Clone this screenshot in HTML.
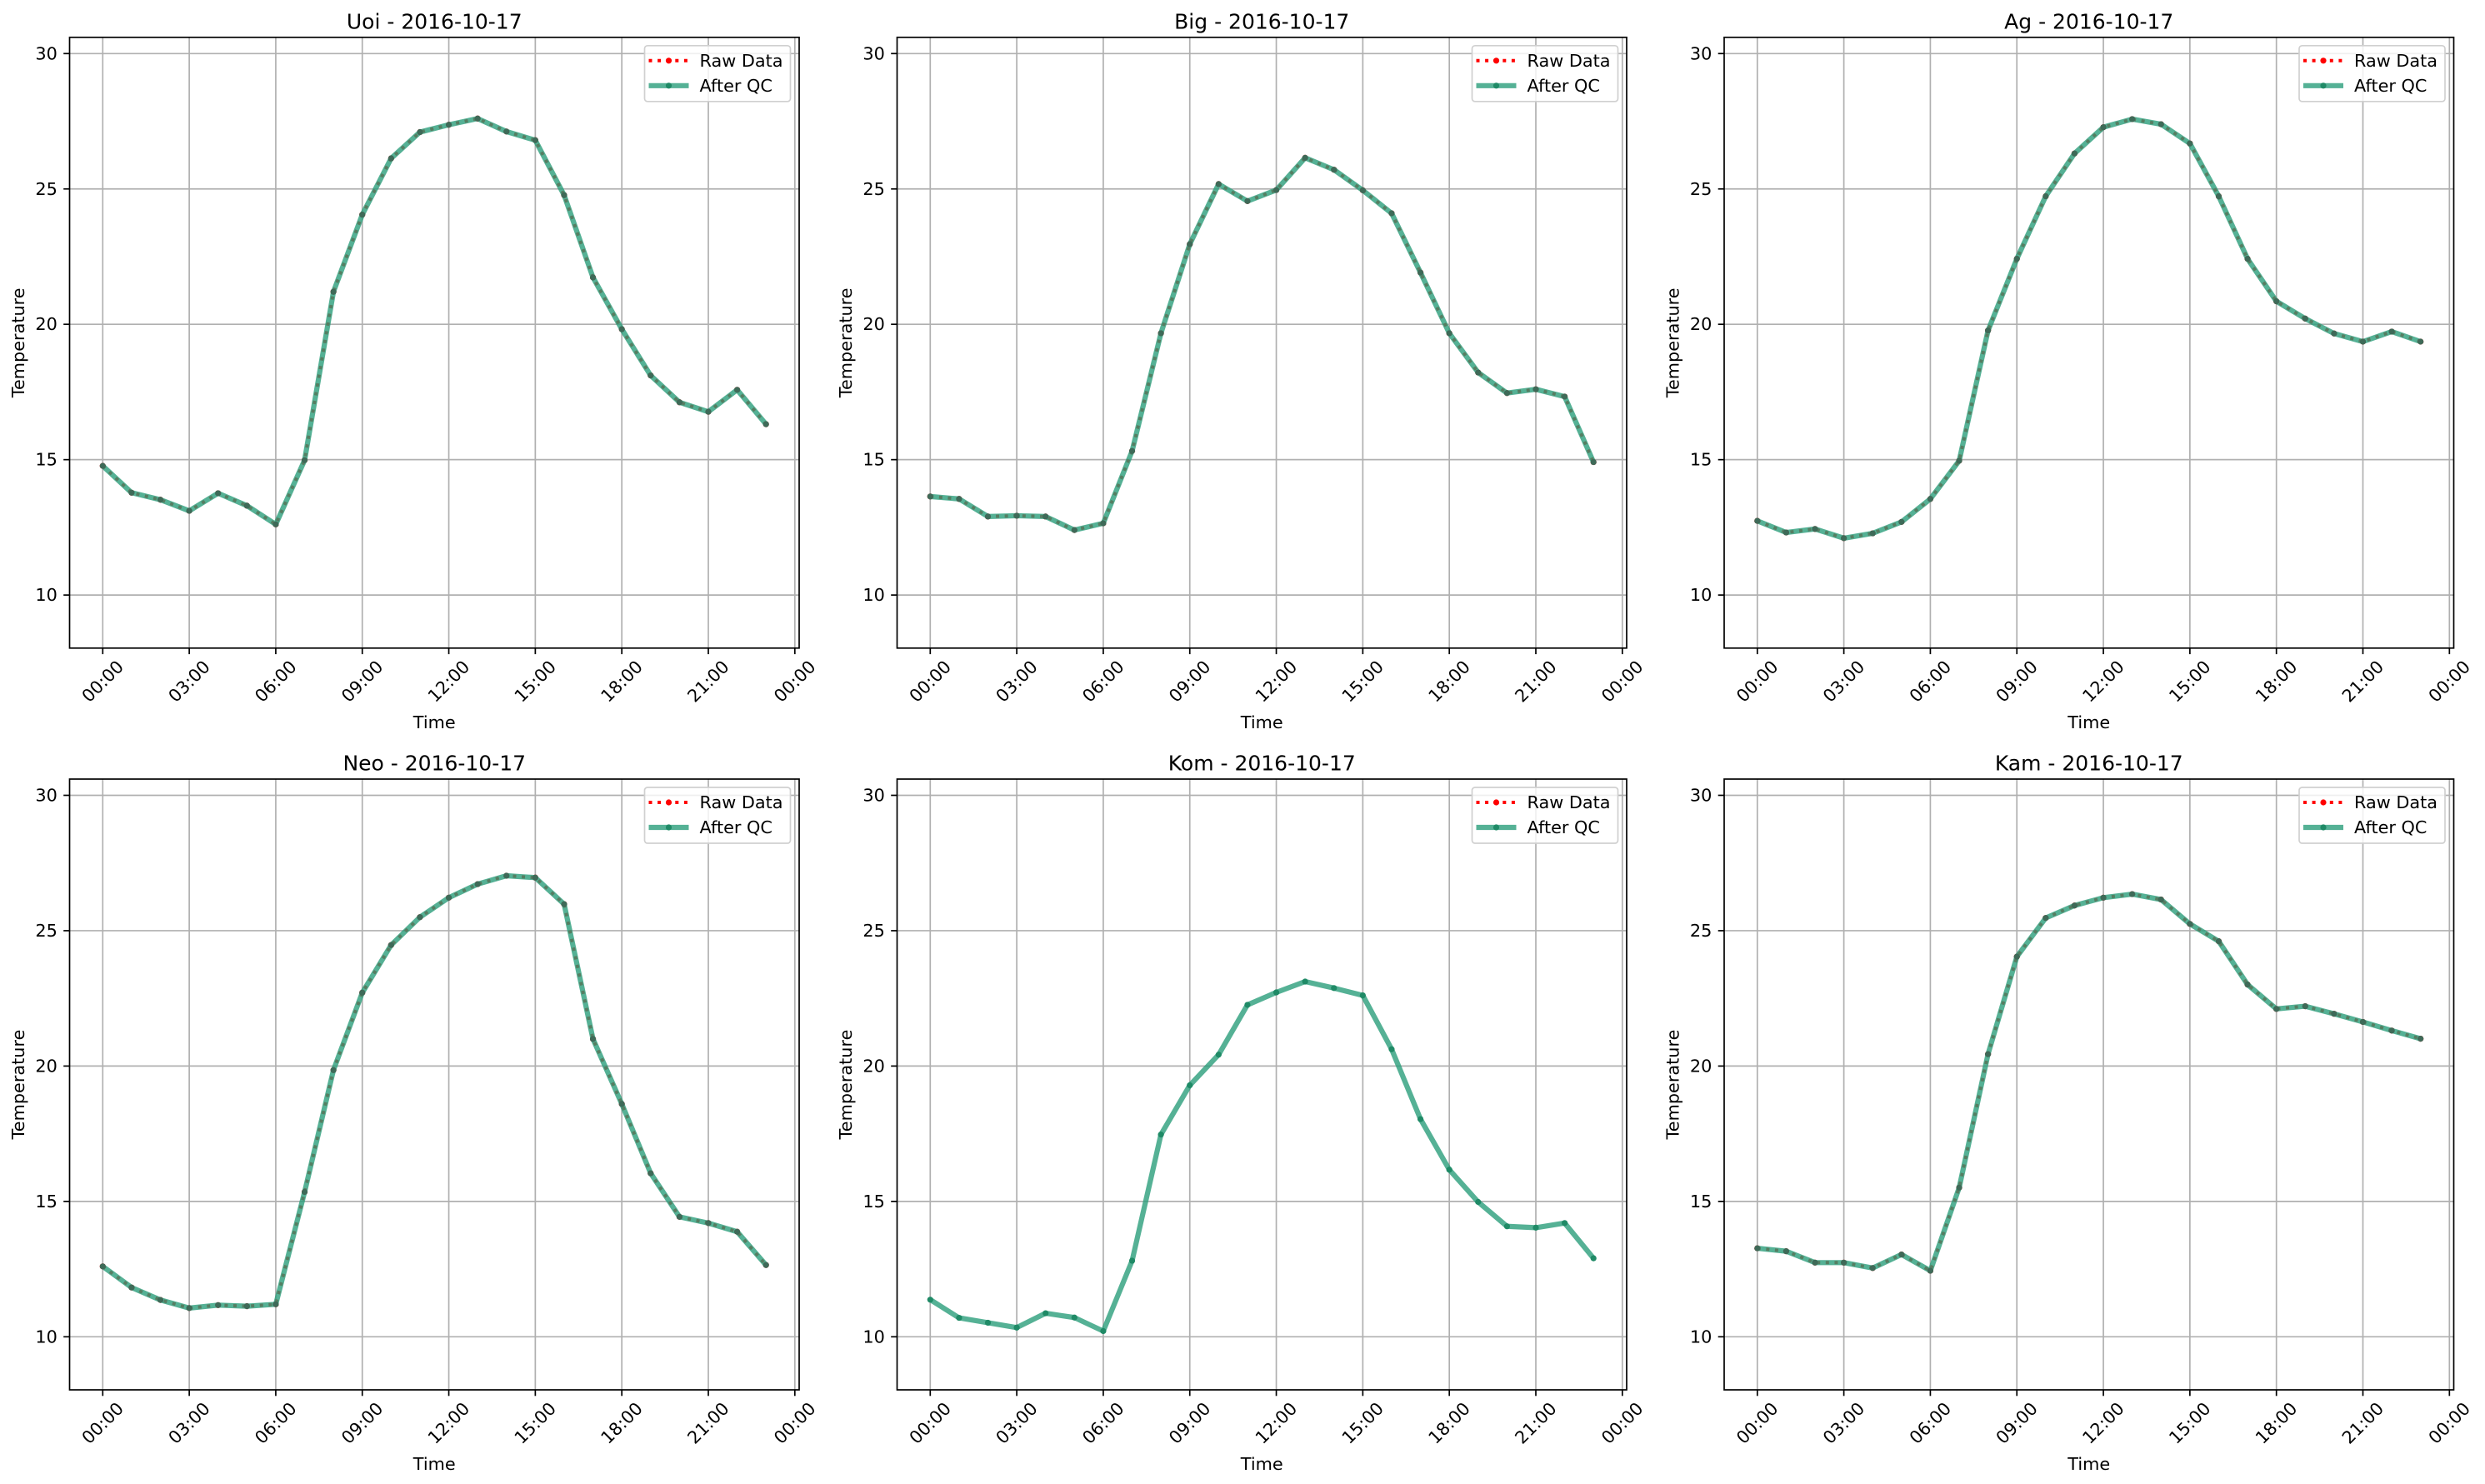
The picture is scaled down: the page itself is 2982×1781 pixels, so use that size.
<!DOCTYPE html>
<html><head><meta charset="utf-8">
<style>
html,body{margin:0;padding:0;background:#fff;}
svg{display:block;font-family:"DejaVu Sans","Liberation Sans",sans-serif;}
</style></head>
<body>
<svg id="fig" width="2982" height="1781" viewBox="0 0 2982 1781" xmlns="http://www.w3.org/2000/svg"></svg>
<script>
// ---- data ----
const stationNames = ["Uoi","Big","Ag","Neo","Kom","Kam"];
const dateLabel = "2016-10-17";
const hours = [0,1,2,3,4,5,6,7,8,9,10,11,12,13,14,15,16,17,18,19,20,21,22,23];
const qcUoi = [14.77,13.78,13.52,13.11,13.76,13.30,12.61,14.98,21.2,24.05,26.13,27.10,27.37,27.60,27.12,26.80,24.77,21.73,19.82,18.11,17.12,16.77,17.58,16.31];
const qcBig = [13.64,13.55,12.90,12.93,12.90,12.40,12.65,15.32,19.67,22.96,25.18,24.55,24.96,26.15,25.71,24.95,24.10,21.91,19.67,18.22,17.46,17.60,17.33,14.91];
const qcAg  = [12.74,12.31,12.44,12.10,12.28,12.70,13.55,14.96,19.77,22.42,24.73,26.31,27.28,27.58,27.39,26.68,24.73,22.42,20.85,20.21,19.66,19.36,19.73,19.36];
const qcNeo = [12.60,11.82,11.36,11.06,11.17,11.13,11.20,15.35,19.85,22.71,24.47,25.50,26.22,26.72,27.03,26.96,25.98,21.00,18.60,16.04,14.43,14.20,13.88,12.65];
const qcKom = [11.37,10.70,10.52,10.34,10.87,10.71,10.21,12.81,17.47,19.29,20.42,22.26,22.72,23.12,22.88,22.61,20.62,18.04,16.17,14.98,14.08,14.03,14.20,12.90];
const qcKam = [13.27,13.16,12.74,12.74,12.54,13.04,12.44,15.51,20.44,24.04,25.47,25.93,26.22,26.35,26.15,25.25,24.61,23.01,22.11,22.21,21.93,21.63,21.31,21.01];
const rawUoi = qcUoi.slice();
const rawBig = qcBig.slice();
const rawAg  = qcAg.slice();
const rawNeo = qcNeo.slice();
const rawKom = null; // raw data not plotted for Kom
const rawKam = qcKam.slice();
const yTicks = [10,15,20,25,30];
const xTickHours = [0,3,6,9,12,15,18,21,24];
const xTickLabels = ["00:00","03:00","06:00","09:00","12:00","15:00","18:00","21:00","00:00"];
const yMin = 8.04, yMax = 30.6, xMin = -1.15, xMax = 24.15;

// ---- layout ----
const NS = "http://www.w3.org/2000/svg";
const svg = document.getElementById("fig");
const colLefts = [83.5, 1076.5, 2069];
const rowTops = [44.8, 935];
const AW = 875.5, AH = 733;
const FS = 20.8;

function mk(tag, attrs, parent){
  const e = document.createElementNS(NS, tag);
  for (const k in attrs) e.setAttribute(k, attrs[k]);
  parent.appendChild(e);
  return e;
}

function panel(idx, name, raw, qc){
  const L = colLefts[idx%3], T = rowTops[Math.floor(idx/3)];
  const sx = h => L + (h - xMin) / (xMax - xMin) * AW;
  const sy = v => T + (yMax - v) / (yMax - yMin) * AH;
  const g = mk("g", {}, svg);
  
  

  // grid
  xTickHours.forEach(h => {
    const l = mk("line", {x1:sx(h),x2:sx(h),y1:T,y2:T+AH,stroke:"#b0b0b0","stroke-width":1.7}, g);
    
    
  });
  yTicks.forEach(v => {
    const l = mk("line", {x1:L,x2:L+AW,y1:sy(v),y2:sy(v),stroke:"#b0b0b0","stroke-width":1.7}, g);
    
    
  });

  // series
  if (raw){
    const pts = hours.map((h,i)=>sx(h)+","+sy(raw[i])).join(" ");
    const rl = mk("polyline", {points:pts, fill:"none", stroke:"#ff0000","stroke-width":4,"stroke-dasharray":"4 6.6"}, g);
    
    
    hours.forEach((h,i)=>{
      const c = mk("circle", {cx:sx(h), cy:sy(raw[i]), r:3.6, fill:"#ff0000"}, g);
      
      
    });
  }
  const qpts = hours.map((h,i)=>sx(h)+","+sy(qc[i])).join(" ");
  const ql = mk("polyline", {points:qpts, fill:"none", stroke:"#2a9d7a","stroke-width":6.2,"stroke-opacity":0.8,"stroke-linejoin":"round"}, g);
  
  
  hours.forEach((h,i)=>{
    const c = mk("circle", {cx:sx(h), cy:sy(qc[i]), r:3.6, fill: raw ? "#3e6a58" : "#1f8a66"}, g);
    
    
  });

  // spines
  const sp = mk("rect", {x:L,y:T,width:AW,height:AH,fill:"none",stroke:"#000","stroke-width":1.7}, g);
  
  

  // y ticks
  yTicks.forEach(v => {
    mk("line", {x1:L-7.3,x2:L,y1:sy(v),y2:sy(v),stroke:"#000","stroke-width":1.7}, g);
    const t = mk("text", {x:L-14.6, y:sy(v), "text-anchor":"end","dominant-baseline":"central","font-size":FS}, g);
    t.textContent = v;
    
    
  });
  // x ticks
  xTickHours.forEach((h,i) => {
    mk("line", {x1:sx(h),x2:sx(h),y1:T+AH,y2:T+AH+7.3,stroke:"#000","stroke-width":1.7}, g);
    const cx = sx(h), cy = T+AH+40;
    const t = mk("text", {x:cx, y:cy, "text-anchor":"middle","dominant-baseline":"central","font-size":FS, transform:`rotate(-45 ${cx} ${cy})`}, g);
    t.textContent = xTickLabels[i];
    
    
  });

  // labels
  const ti = mk("text", {x:L+AW/2, y:T-19, "text-anchor":"middle","dominant-baseline":"central","font-size":25}, g);
  ti.textContent = name + " - " + dateLabel;
  
  
  const xl = mk("text", {x:L+AW/2, y:T+AH+89, "text-anchor":"middle","dominant-baseline":"central","font-size":FS}, g);
  xl.textContent = "Time";
  
  
  const yx = L-61.5, yy = T+AH/2;
  const yl = mk("text", {x:yx, y:yy, "text-anchor":"middle","dominant-baseline":"central","font-size":FS, transform:`rotate(-90 ${yx} ${yy})`}, g);
  yl.textContent = "Temperature";
  
  

  // legend
  const bx = L+AW-10.5-175, by = T+10;
  const lg = mk("g", {}, g);
  
  
  mk("rect", {x:bx, y:by, width:175, height:67, rx:3.5, fill:"#fff","fill-opacity":0.8, stroke:"#d0d0d0","stroke-width":1.7}, lg);
  const y1 = by+18, y2 = by+48;
  mk("line", {x1:bx+5, x2:bx+53, y1:y1, y2:y1, stroke:"#ff0000","stroke-width":4,"stroke-dasharray":"4 6.6"}, lg);
  mk("circle", {cx:bx+29, cy:y1, r:3.6, fill:"#ff0000"}, lg);
  const t1 = mk("text", {x:bx+66, y:y1, "dominant-baseline":"central","font-size":FS}, lg);
  t1.textContent = "Raw Data";
  
  
  mk("line", {x1:bx+5, x2:bx+53, y1:y2, y2:y2, stroke:"#2a9d7a","stroke-width":6.2,"stroke-opacity":0.8}, lg);
  mk("circle", {cx:bx+29, cy:y2, r:3.6, fill:"#1f8a66"}, lg);
  const t2 = mk("text", {x:bx+66, y:y2, "dominant-baseline":"central","font-size":FS}, lg);
  t2.textContent = "After QC";
  
  
}

panel(0, stationNames[0], rawUoi, qcUoi);
panel(1, stationNames[1], rawBig, qcBig);
panel(2, stationNames[2], rawAg, qcAg);
panel(3, stationNames[3], rawNeo, qcNeo);
panel(4, stationNames[4], rawKom, qcKom);
panel(5, stationNames[5], rawKam, qcKam);
</script>
</body></html>
